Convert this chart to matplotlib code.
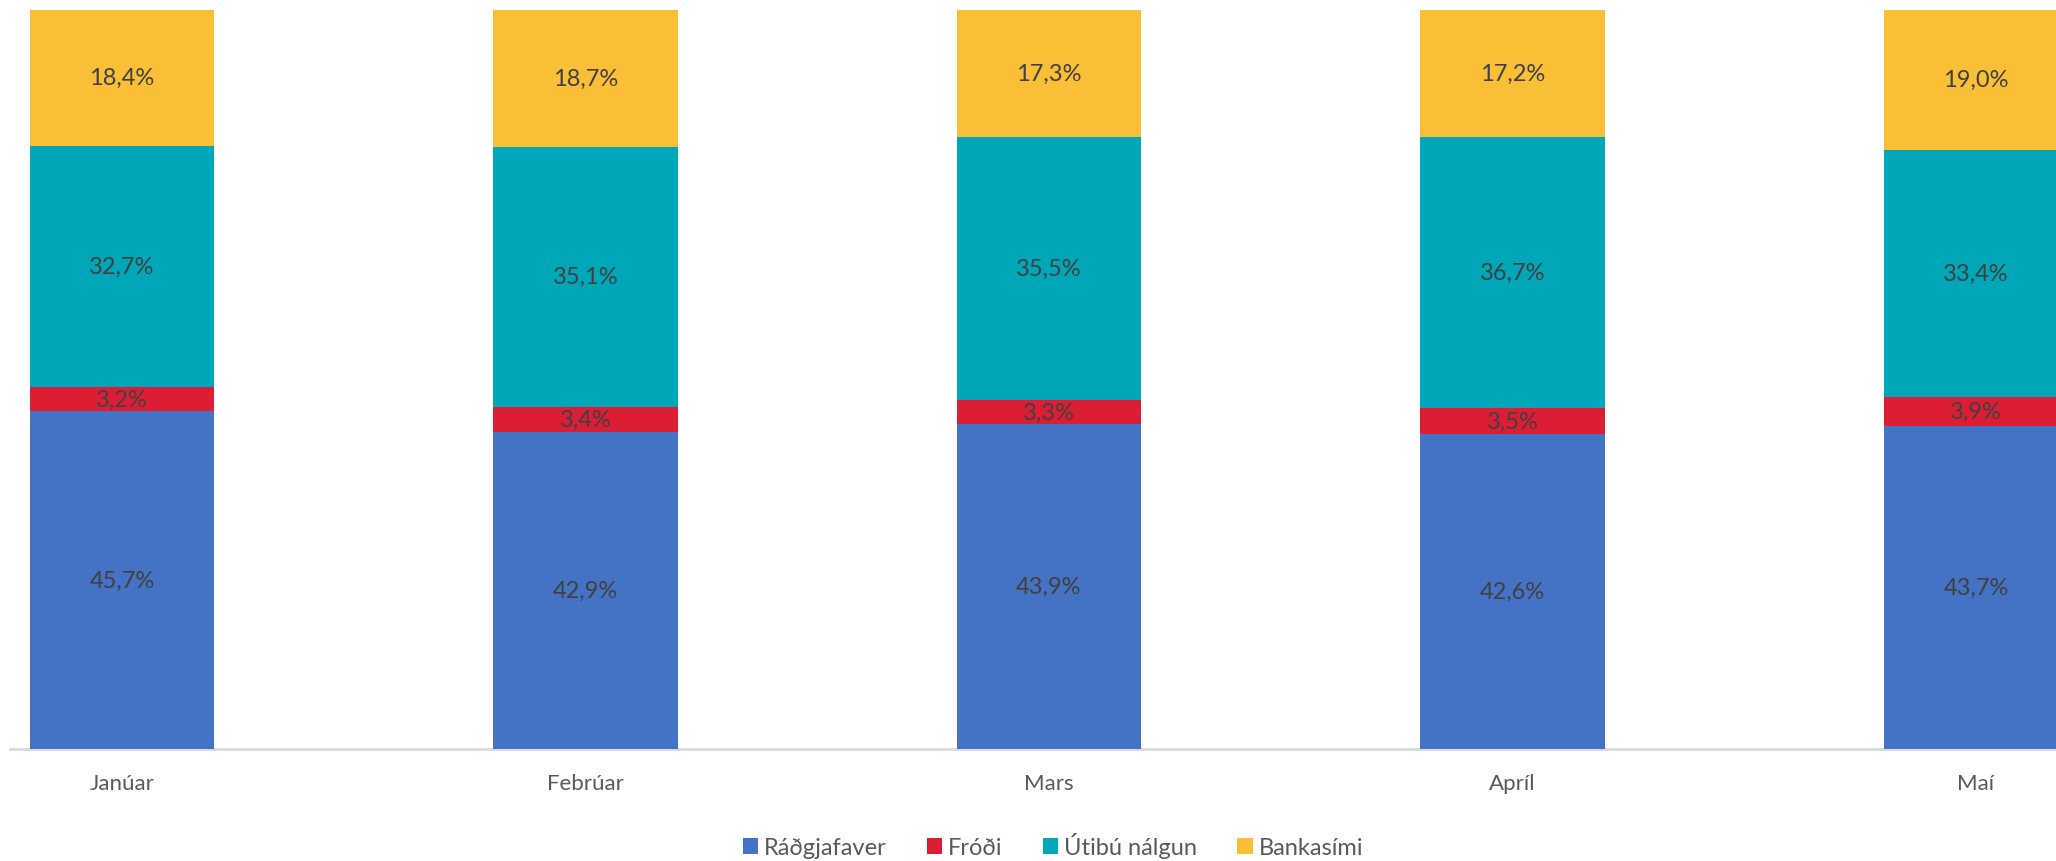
import numpy as np
import matplotlib.pyplot as plt

plt.rcParams['font.family'] = ['Lato', 'DejaVu Sans']

# data (percent)
months = ["Janúar", "Febrúar", "Mars", "Apríl", "Maí"]
series_names = ["Ráðgjafaver", "Fróði", "Útibú nálgun", "Bankasími"]
radgjafaver = [45.7, 42.9, 43.9, 42.6, 43.7]
frodi = [3.2, 3.4, 3.3, 3.5, 3.9]
utibu = [32.7, 35.1, 35.5, 36.7, 33.4]
bankasimi = [18.4, 18.7, 17.3, 17.2, 19.0]
colors = ["#4472C4", "#DC1E35", "#00A7B9", "#FABF37"]

series = [radgjafaver, frodi, utibu, bankasimi]

W, H = 2056, 862
fig = plt.figure(figsize=(W/100, H/100), dpi=100)
ax = fig.add_axes([10/W, (H-750)/H, (W-10)/W, (750-10.5)/H])

x = np.arange(len(months))
bottom = np.zeros(len(months))
handles = []
for vals, name, col in zip(series, series_names, colors):
    vals = np.array(vals)
    b = ax.bar(x, vals, width=0.397, bottom=bottom, color=col, label=name, zorder=2)
    handles.append(b)
    for xi, v, b0 in zip(x, vals, bottom):
        ax.text(xi, b0 + v/2, f"{v:.1f}%".replace(".", ","), ha="center", va="center",
                fontsize=17, color="#404040", zorder=3)
    bottom += vals

ax.set_xlim(-(122-10)/463.5, -(122-10)/463.5 + (W-10)/463.5)
ax.set_ylim(0, 100)
ax.set_xticks(x)
ax.set_xticklabels(months, fontsize=16, color="#595959")
ax.tick_params(axis="x", length=0, pad=17)
ax.set_yticks([])
for s in ["top", "right", "left"]:
    ax.spines[s].set_visible(False)
ax.spines["bottom"].set_color("#D9D9D9")
ax.spines["bottom"].set_linewidth(2)
ax.spines["bottom"].set_zorder(1)

fig.legend(handles=handles, labels=series_names, loc="center", ncol=4,
           bbox_to_anchor=(1053/W, 16/H), frameon=False, fontsize=17,
           handlelength=0.65, handleheight=0.65, handletextpad=0.25,
           columnspacing=1.7, labelcolor="#595959")

fig.savefig("out.png", dpi=100)
